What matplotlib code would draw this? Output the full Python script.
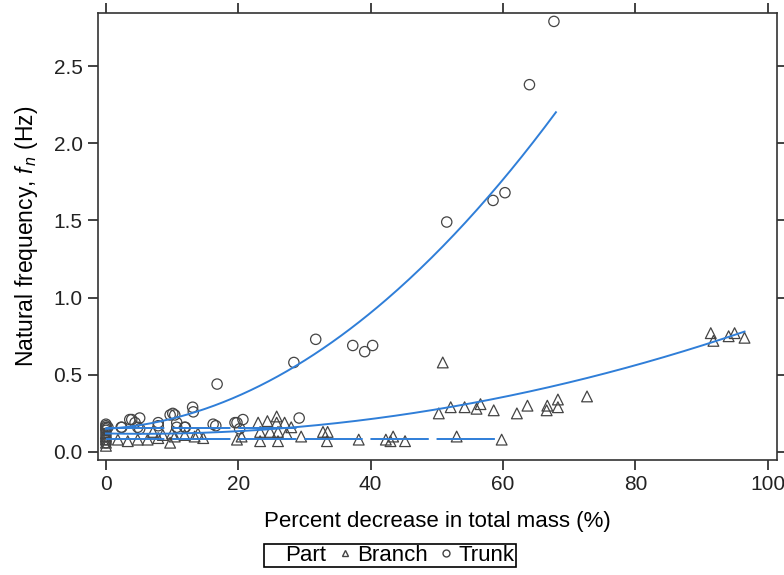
import matplotlib
matplotlib.use("Agg")
import matplotlib.pyplot as plt
from matplotlib.lines import Line2D
import numpy as np

plt.rcParams['font.family'] = ['Liberation Sans', 'DejaVu Sans']
plt.rcParams['mathtext.fontset'] = 'custom'
plt.rcParams['mathtext.rm'] = 'Liberation Sans'
plt.rcParams['mathtext.it'] = 'Liberation Sans:italic'

# Trunk observations (percent mass decrease, natural frequency Hz)
trunk_x = [0, 0, 0, 0, 0, 0, 0, 0, 0, 0.3, 2.3, 2.4, 3.6, 3.9, 4.4, 4.8, 5.1, 5.1,
           7.9, 7.9, 9.7, 10.1, 10.4, 10.7, 10.7, 11.9, 12.0, 13.1, 13.2, 16.2, 16.6,
           16.8, 19.5, 19.8, 20.2, 20.7, 29.2, 28.4, 31.7, 37.3, 39.1, 40.3,
           51.5, 58.5, 60.3, 64.0, 67.7]
trunk_y = [0.18, 0.17, 0.16, 0.15, 0.14, 0.12, 0.10, 0.08, 0.06, 0.16, 0.16, 0.16, 0.21, 0.21,
           0.19, 0.16, 0.22, 0.15, 0.19, 0.17, 0.24, 0.25, 0.24, 0.19, 0.16, 0.16, 0.16,
           0.29, 0.26, 0.18, 0.17, 0.44, 0.19, 0.19, 0.15, 0.21, 0.22, 0.58, 0.73,
           0.69, 0.65, 0.69, 1.49, 1.63, 1.68, 2.38, 2.79]

# Branch observations
branch_x = [0, 0, 0, 0, 0, 1.8, 3.3, 4.8, 6.3, 7.1, 7.9, 8.6, 9.7, 10.0, 10.4, 11.9,
            13.4, 13.9, 14.7, 19.8, 20.5, 23.0, 23.3, 23.3, 24.4, 24.8, 25.8, 25.8,
            26.0, 26.0, 27.0, 27.3, 28.0, 29.5, 32.8, 33.5, 33.4, 38.2, 42.3, 43.0,
            43.4, 45.2, 50.3, 50.9, 52.1, 53.0, 54.2, 56.0, 56.6, 58.6, 59.8, 62.1,
            63.7, 66.6, 66.7, 68.3, 68.3, 72.7, 91.4, 91.8, 94.1, 95.0, 96.5]
branch_y = [0.04, 0.06, 0.08, 0.10, 0.12, 0.08, 0.07, 0.08, 0.08, 0.13, 0.09, 0.11, 0.06,
            0.12, 0.10, 0.11, 0.10, 0.12, 0.09, 0.08, 0.10, 0.19, 0.13, 0.07, 0.20,
            0.13, 0.23, 0.19, 0.13, 0.07, 0.19, 0.12, 0.16, 0.10, 0.13, 0.13, 0.07,
            0.08, 0.08, 0.07, 0.10, 0.07, 0.25, 0.58, 0.29, 0.10, 0.29, 0.28, 0.31,
            0.27, 0.08, 0.25, 0.30, 0.27, 0.30, 0.34, 0.29, 0.36, 0.77, 0.72, 0.75,
            0.77, 0.74]

# Fitted curves (quadratic coefficients, constant first)
trunk_fit = [0.15, 0.00256, 0.000406]
trunk_fit_range = [0, 68]
branch_fit = [0.12, -0.00086, 0.0000798]
branch_fit_range = [0, 96.5]
# Flat (null-model) fits
trunk_flat = 0.155
trunk_flat_range = [0, 29.5]
branch_flat = 0.083
branch_flat_range = [0, 59]

line_col = '#2f7ed8'
mark_col = '#444444'

fig = plt.figure(figsize=(7.84, 5.75), dpi=100)
ax = fig.add_axes([0.125, 0.2, 0.866, 0.777])

ax.scatter(branch_x, branch_y, marker='^', s=60, facecolors='none',
           edgecolors=mark_col, linewidths=0.9, zorder=2)
ax.scatter(trunk_x, trunk_y, marker='o', s=55, facecolors='none',
           edgecolors=mark_col, linewidths=0.9, zorder=2)

for coef, rng in [(trunk_fit, trunk_fit_range), (branch_fit, branch_fit_range)]:
    xs = np.linspace(rng[0], rng[1], 200)
    ax.plot(xs, np.polyval(coef[::-1], xs), color=line_col, lw=1.4, zorder=3)

for lev, rng in [(trunk_flat, trunk_flat_range), (branch_flat, branch_flat_range)]:
    ax.plot(rng, [lev, lev], color=line_col, lw=1.4, zorder=3,
            linestyle=(0, (30, 4)))

ax.set_xlim(-1.2, 101.4)
ax.set_ylim(-0.052, 2.843)
ax.set_xticks([0, 20, 40, 60, 80, 100])
ax.set_yticks([0.0, 0.5, 1.0, 1.5, 2.0, 2.5])
ax.set_yticklabels(['0.0', '0.5', '1.0', '1.5', '2.0', '2.5'])
ax.tick_params(direction='out', length=7, width=1.2, labelsize=15, colors='#222222',
               top=True, right=True, labeltop=False, labelright=False, pad=4)
for sp in ax.spines.values():
    sp.set_linewidth(1.2)
    sp.set_color('#333333')

ax.set_xlabel('Percent decrease in total mass (%)', fontsize=16, labelpad=12)
ax.set_ylabel('Natural frequency, $f_{\\,n}$ (Hz)', fontsize=16.5, labelpad=10)

handles = [Line2D([], [], linestyle='none'),
           Line2D([], [], marker='^', linestyle='none', markerfacecolor='none',
                  markeredgecolor=mark_col, markersize=5),
           Line2D([], [], marker='o', linestyle='none', markerfacecolor='none',
                  markeredgecolor=mark_col, markersize=5)]
leg = fig.legend(handles, ['Part', 'Branch', 'Trunk'], loc='center',
                 bbox_to_anchor=(0.497, 0.034), ncol=3, fontsize=16,
                 handlelength=0.7, handletextpad=0.2, columnspacing=0.5,
                 borderpad=0.05, fancybox=False, framealpha=1)
leg.get_frame().set_edgecolor('black')
leg.get_frame().set_linewidth(1.2)

plt.savefig('out.png', dpi=100)
